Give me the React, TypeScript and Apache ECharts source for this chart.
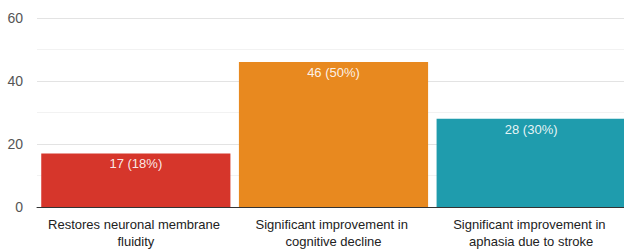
import React, { useEffect, useRef } from "react";
import * as echarts from "echarts";

const categories = [
  "Restores neuronal membrane fluidity",
  "Significant improvement in cognitive decline",
  "Significant improvement in aphasia due to stroke",
];
const counts = [17, 46, 28];
const percents = [18, 50, 30];
const barColors = ["#d6362b", "#e8891f", "#1f9cad"];
const yTicks = [0, 20, 40, 60];

export default function App() {
  const ref = useRef<HTMLDivElement>(null);
  useEffect(() => {
    if (!ref.current) return;
    const chart = echarts.init(ref.current, undefined, { renderer: "svg" });
    const font = "Arial, 'Liberation Sans', sans-serif";
    chart.setOption({
      animation: false,
      grid: { left: 37, right: 10, top: 18, bottom: 41 },
      xAxis: {
        type: "category",
        data: categories,
        axisTick: { show: false },
        axisLine: { lineStyle: { color: "#333", width: 1 } },
        axisLabel: {
          color: "#222",
          fontSize: 13,
          fontFamily: font,
          margin: 9,
          lineHeight: 17,
          width: 180,
          overflow: "break",
          interval: 0,
        },
      },
      yAxis: {
        type: "value",
        min: yTicks[0],
        max: yTicks[yTicks.length - 1],
        interval: 20,
        axisLine: { show: false },
        axisTick: { show: false },
        axisLabel: { color: "#555", fontSize: 14, fontFamily: font, margin: 14 },
        splitLine: { lineStyle: { color: "#e3e3e3" } },
        minorTick: { show: false, splitNumber: 2 },
        minorSplitLine: { show: true, lineStyle: { color: "#f2f2f2" } },
      },
      series: [
        {
          type: "bar",
          barCategoryGap: "4.3%",
          data: counts.map((v, i) => ({
            value: v,
            itemStyle: { color: barColors[i] },
          })),
          label: {
            show: true,
            position: "insideTop",
            distance: 4,
            color: "rgba(255,255,255,0.9)",
            fontSize: 13,
            fontFamily: font,
            formatter: (p: any) => `${counts[p.dataIndex]} (${percents[p.dataIndex]}%)`,
          },
        },
      ],
    });
    return () => chart.dispose();
  }, []);
  return (
    <div
      style={{
        position: "fixed",
        left: 0,
        top: 0,
        width: 624,
        height: 250,
        overflow: "hidden",
        background: "#fff",
      }}
    >
      <div ref={ref} style={{ width: 640, height: 250 }} />
    </div>
  );
}
